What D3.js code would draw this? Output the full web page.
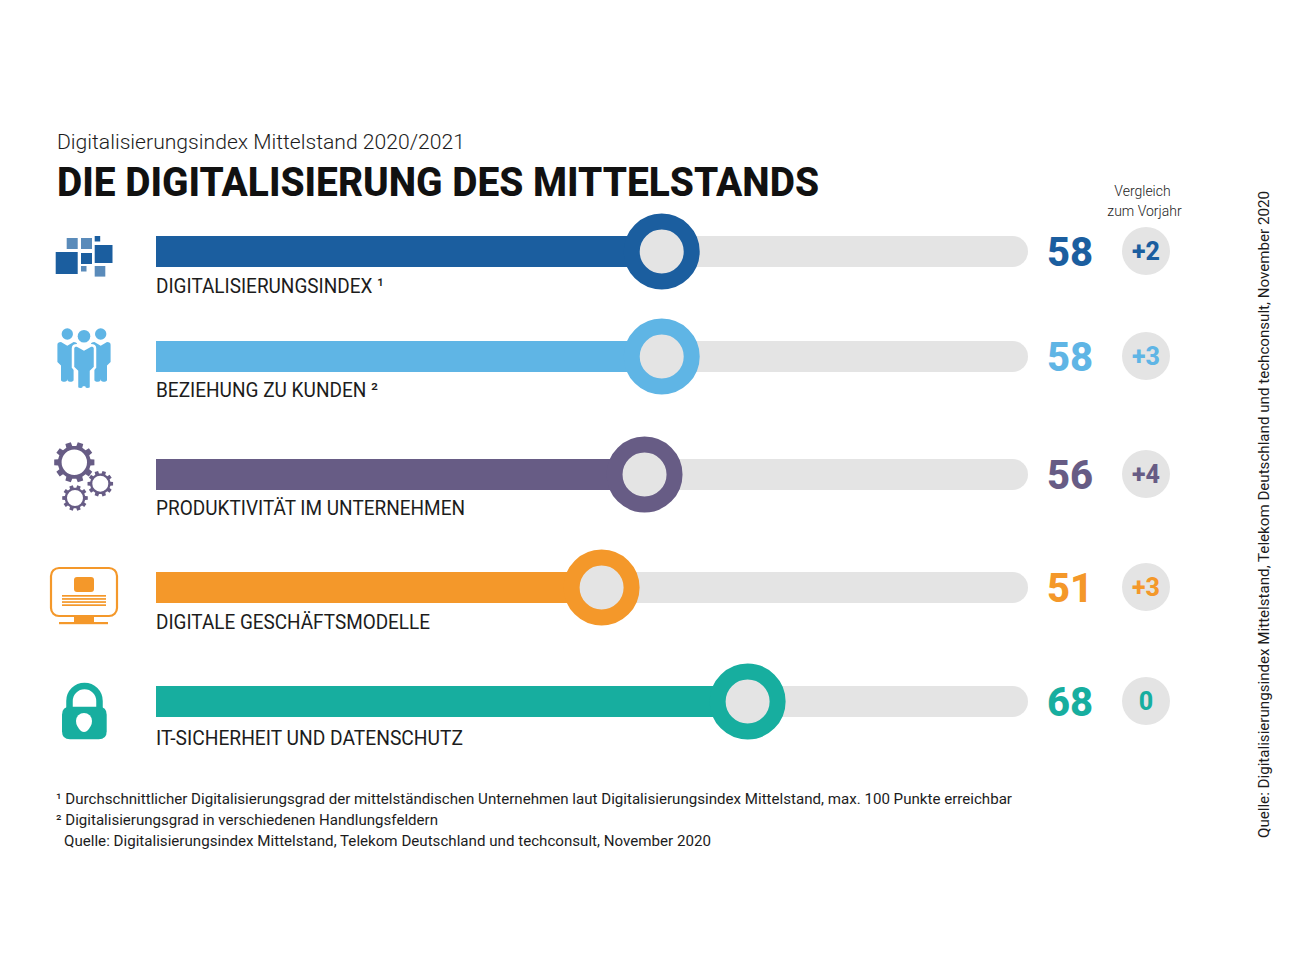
<!DOCTYPE html>
<html><head><meta charset="utf-8">
<script src="https://cdn.jsdelivr.net/npm/d3@7/dist/d3.min.js"></script>
<style>html,body{margin:0;background:#fff}svg{display:block}text{font-family:Roboto,sans-serif;fill:#1c1c1c}</style>
</head><body><svg id="c" width="1296" height="972"></svg>
<script>
const categories=["DIGITALISIERUNGSINDEX","BEZIEHUNG ZU KUNDEN","PRODUKTIVITÄT IM UNTERNEHMEN","DIGITALE GESCHÄFTSMODELLE","IT-SICHERHEIT UND DATENSCHUTZ"];
const marks=[" ¹"," ²","","",""];
const values=[58,58,56,51,68];
const deltas=["+2","+3","+4","+3","0"];
const colors=["#1b5e9f","#5fb5e5","#675c85","#f4982a","#17ae9f"];
const iconNames=["blocks","people","gears","screen","lock"];
const footnotes=["¹ Durchschnittlicher Digitalisierungsgrad der mittelständischen Unternehmen laut Digitalisierungsindex Mittelstand, max. 100 Punkte erreichbar","² Digitalisierungsgrad in verschiedenen Handlungsfeldern","Quelle: Digitalisierungsindex Mittelstand, Telekom Deutschland und techconsult, November 2020"];
const subtitle="Digitalisierungsindex Mittelstand 2020/2021";
const title="DIE DIGITALISIERUNG DES MITTELSTANDS";
const source="Quelle: Digitalisierungsindex Mittelstand, Telekom Deutschland und techconsult, November 2020";
const compareLabel=["Vergleich","zum Vorjahr"];

// layout
const rowY=[252,357,475,588,702];
const labelY=[41,40,40,41,43];
const labelW=[228,222,309,274,307];
const footX=[56,56,64], footW=[956,382,647];

const svg=d3.select("#c");
const x=d3.scaleLinear().domain([0,100]).range([163.5,1022.5]);
const fit=(sel,w)=>sel.attr("textLength",w).attr("lengthAdjust","spacingAndGlyphs");

fit(svg.append("text").attr("x",57).attr("y",149).attr("font-size",21).attr("font-weight",300).text(subtitle),408);
fit(svg.append("text").attr("x",57).attr("y",196).attr("font-size",41).attr("font-weight",800).style("fill","#111").text(title),762);
svg.append("text").attr("text-anchor","middle").attr("font-size",14).attr("font-weight",300)
  .selectAll("tspan").data(compareLabel).join("tspan")
  .attr("x",(d,i)=>i?1144.5:1142.5).attr("y",(d,i)=>196+i*20).text(d=>d);

const rows=svg.selectAll("g.row").data(categories).join("g").attr("class","row")
  .attr("transform",(d,i)=>`translate(0,${rowY[i]})`);
rows.append("rect").attr("x",156).attr("y",-16).attr("width",872).attr("height",31).attr("rx",15.5).attr("fill","#e4e4e4");
rows.append("rect").attr("x",156).attr("y",-16).attr("height",31)
  .attr("width",(d,i)=>x(values[i])-156).attr("fill",(d,i)=>colors[i]);
rows.append("circle").attr("cx",(d,i)=>x(values[i])).attr("cy",-0.5).attr("r",30)
  .attr("fill","#e4e4e4").attr("stroke",(d,i)=>colors[i]).attr("stroke-width",16);
rows.append("text").attr("x",156).attr("y",(d,i)=>labelY[i]).attr("font-size",20).attr("font-weight",400)
  .each(function(d,i){fit(d3.select(this),labelW[i]);})
  .text((d,i)=>d+marks[i]);
rows.append("text").attr("x",1047).attr("y",14).attr("font-size",40).attr("font-weight",800)
  .style("fill",(d,i)=>colors[i]).text((d,i)=>values[i]);
rows.append("circle").attr("cx",1146).attr("cy",-1).attr("r",24).attr("fill","#e4e4e4");
rows.append("text").attr("x",1146).attr("y",8).attr("text-anchor","middle").attr("font-size",25).attr("font-weight",800)
  .style("fill",(d,i)=>colors[i]).text((d,i)=>deltas[i]);

function gear(g,cx,cy,r,t,hole,n,c){
  const tw=Math.PI/n*0.6;
  const pts=d3.range(n).flatMap(i=>{const a=i*2*Math.PI/n;
    return [[a-tw,r],[a-tw*0.75,r+t],[a+tw*0.75,r+t],[a+tw,r]].map(([b,q])=>[cx+q*Math.cos(b),cy+q*Math.sin(b)]);});
  g.append("path").attr("d",d3.line().curve(d3.curveLinearClosed)(pts)+
    `M${cx+hole},${cy}A${hole},${hole} 0 1 0 ${cx-hole},${cy}A${hole},${hole} 0 1 0 ${cx+hole},${cy}Z`)
    .attr("fill",c).attr("fill-rule","evenodd");
}
const icons={
 blocks(g,c){
  [[55.7,0,22,22,1],[66.7,-14,11,11,.72],[81,-14,11,11,.72],[94.7,-16,5.5,5.5,1],[94.7,-7,17.8,18,1],[81,1,11,11,1],[81,14,5.5,5.5,.72],[94.7,14,10.6,10.6,.72]]
   .forEach(([a,b,w,h,o])=>g.append("rect").attr("x",a).attr("y",b).attr("width",w).attr("height",h).attr("fill",c).attr("opacity",o));
 },
 people(g,c){
  const person=(cx,cy,sc,outline)=>{const p=g.append("g").attr("transform",`translate(${cx},${cy}) scale(${sc})`);
   p.append("circle").attr("r",6.3).attr("fill",c);
   p.append("path").attr("d","M-11,12 Q-11,9 -7,9 L0,13 L7,9 Q11,9 11,12 L11,31 L7,35 L7,51 Q7,53 3,53 Q0,53 0,50 Q0,53 -3,53 Q-7,53 -7,51 L-7,35 L-11,31 Z")
    .attr("fill",c).attr("stroke",outline?"#fff":"none").attr("stroke-width",outline?2.5:0);
  };
  person(67.3,-23,.9,false);person(100.7,-23,.9,false);person(84,-20.7,1,true);
 },
 gears(g,c){gear(g,74.3,-12.7,16.5,3.8,12.7,10,c);gear(g,100.3,8.7,10.3,2.6,8,10,c);gear(g,75,23,10.3,2.6,8,10,c);},
 screen(g,c){
  g.append("rect").attr("x",51).attr("y",-20).attr("width",66).attr("height",48).attr("rx",8).attr("fill","none").attr("stroke",c).attr("stroke-width",2.2);
  g.append("rect").attr("x",74).attr("y",-11).attr("width",20).attr("height",15).attr("rx",3).attr("fill",c);
  d3.range(4).forEach(i=>g.append("rect").attr("x",62).attr("y",7+i*3.1).attr("width",44).attr("height",1.7).attr("fill",c));
  g.append("rect").attr("x",74).attr("y",28).attr("width",20).attr("height",7).attr("fill",c);
  g.append("rect").attr("x",59).attr("y",34).attr("width",49).attr("height",2.2).attr("fill",c);
 },
 lock(g,c){
  g.append("path").attr("d","M69.5,8 V-1 A15,15 0 0 1 99.5,-1 V8").attr("fill","none").attr("stroke",c).attr("stroke-width",6.5);
  g.append("path").attr("d","M70,4.7H98.7Q106.7,4.7 106.7,12.7V29.3Q106.7,37.3 98.7,37.3H70Q62,37.3 62,29.3V12.7Q62,4.7 70,4.7Z").attr("fill",c);
  g.append("path").attr("d","M76,19 A8,8 0 0 1 92,19 Q92,24 87,29 Q84,31 81,29 Q76,24 76,19Z").attr("fill","#fff");
 }
};
rows.each(function(d,i){icons[iconNames[i]](d3.select(this).append("g"),colors[i]);});

svg.append("g").selectAll("text").data(footnotes).join("text").attr("x",(d,i)=>footX[i])
  .attr("y",(d,i)=>804+i*21).attr("font-size",14.6)
  .each(function(d,i){fit(d3.select(this),footW[i]);}).text(d=>d);
fit(svg.append("text").attr("transform","translate(1269,838) rotate(-90)").attr("font-size",14.5).text(source),647);
</script></body></html>
